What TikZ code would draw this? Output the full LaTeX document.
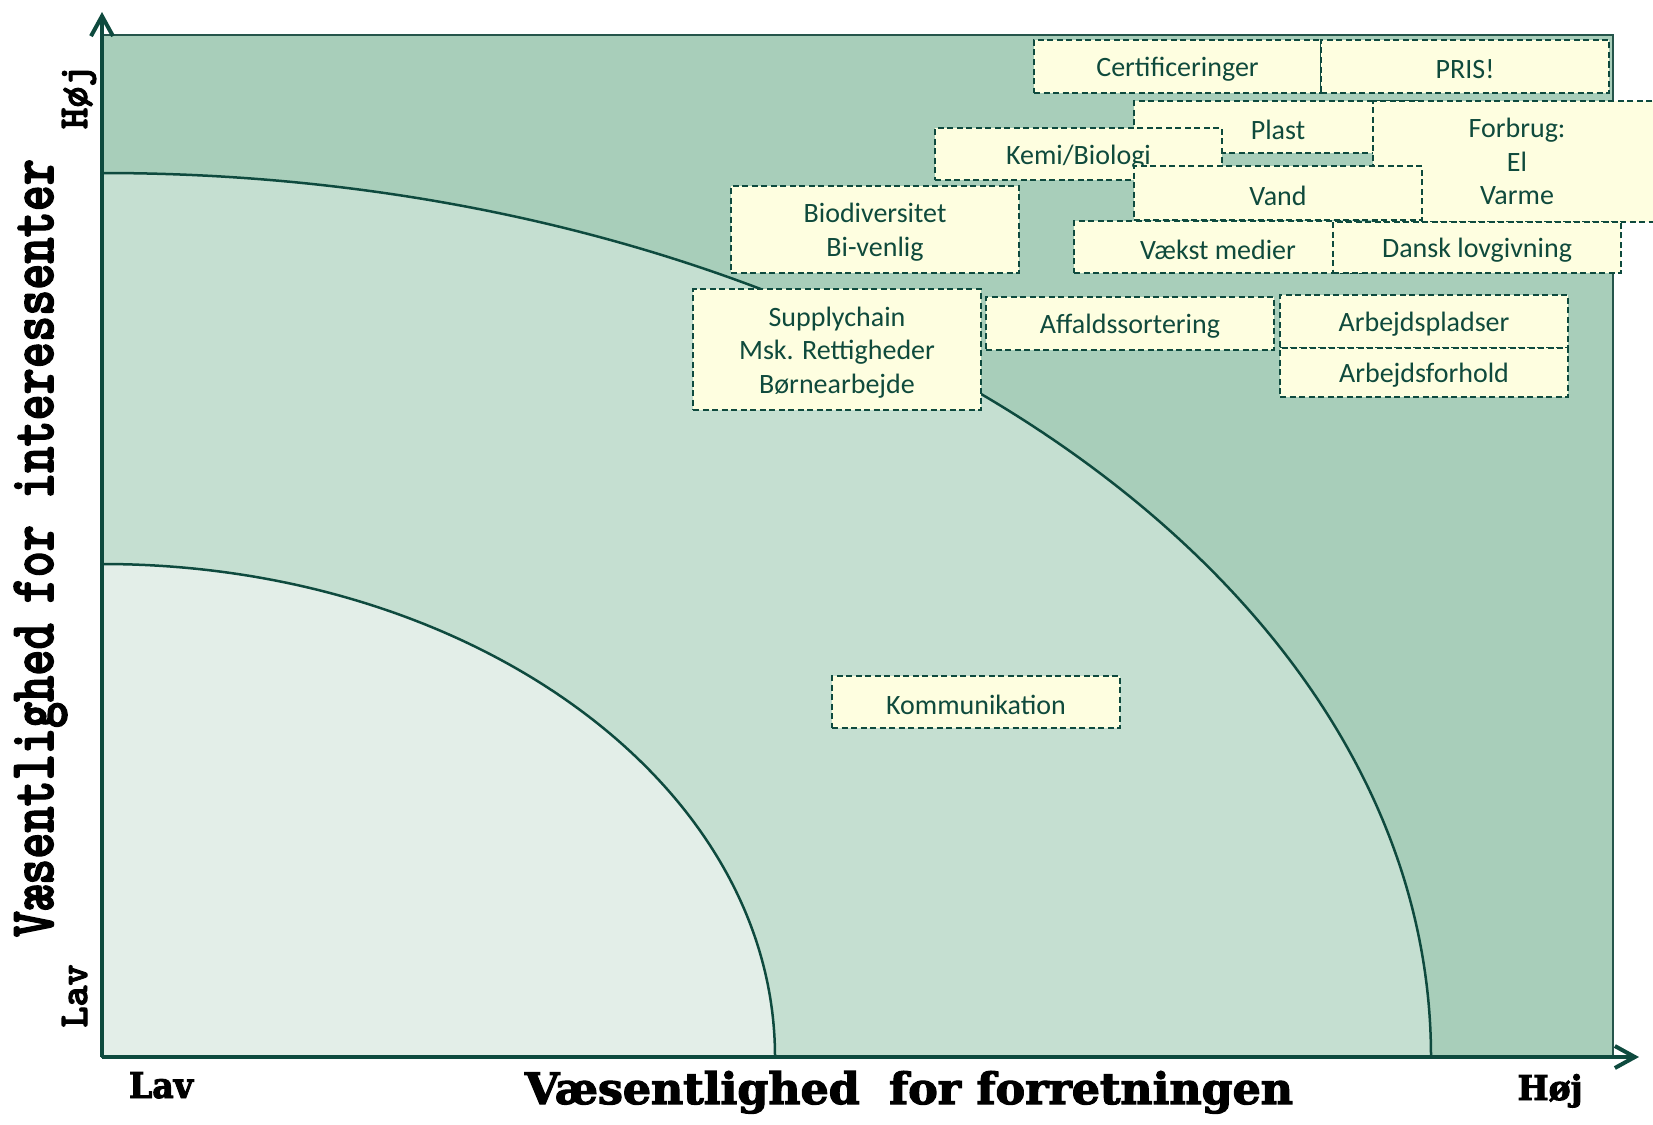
\documentclass[tikz,border=0pt]{standalone}
\usepackage{graphicx}
\usepackage{fontspec}
\setmainfont{Carlito}
\newfontfamily\ymono[FakeBold=2.5]{lmmonolt10-bold.otf}
\newfontfamily\xslab[FakeBold=2.5]{DejaVu Serif Condensed Bold}
\usetikzlibrary{arrows.meta}
\definecolor{darkreg}{HTML}{A8CEBA}
\definecolor{midreg}{HTML}{C5DFD1}
\definecolor{lightreg}{HTML}{E3EEE8}
\definecolor{boxfill}{HTML}{FEFEE0}
\definecolor{linec}{HTML}{0E4A3E}
\definecolor{textc}{HTML}{0F4A3C}
\newcommand{\upstrut}{\rule{0pt}{25pt}}
\begin{document}
\begin{tikzpicture}[x=1pt,y=-1pt,
  box/.style={draw=linec, fill=boxfill, dash pattern=on 6pt off 3.5pt, line width=1.8pt,
    inner sep=0pt, outer sep=0pt, anchor=north west, minimum width=288pt, minimum height=53pt,
    text=textc, align=center, font=\fontsize{28}{33.5}\selectfont},
  curve/.style={draw=linec, line width=2.5pt},
  axisline/.style={draw=linec, line width=4pt, -{Straight Barb[length=20pt,width=22pt,line width=4pt]}},
  plotborder/.style={draw=linec!80!gray, line width=2.5pt}]
\useasboundingbox (0,0) rectangle (1653,1124);
% regions
\fill[darkreg] (102,35) rectangle (1613,1057);
\begin{scope}
  \clip (102,35) rectangle (1613,1057);
  \filldraw[fill=midreg, curve] (102,1057) ellipse [x radius=1329pt, y radius=884pt];
  \filldraw[fill=lightreg, curve] (102,1057) ellipse [x radius=673pt, y radius=493pt];
\end{scope}
\draw[plotborder] (102,35) rectangle (1613,1057);
% axes
\coordinate (O) at (102,1057);
\coordinate (ytip) at (102,12);
\coordinate (xtip) at (1639,1057);
\draw[axisline] (O) -- (ytip);
\draw[axisline] (O) -- (xtip);
% boxes
\node[box] (plast) at (1134,101) [minimum height=52pt] {\upstrut Plast};
\node[box, minimum height=121pt] (forbrug) at (1373,101) {Forbrug:\\El\\Varme};
\node[box, minimum width=287pt] (cert) at (1034,40) {\upstrut Certificeringer};
\node[box] (pris) at (1321,40) {\upstrut PRIS!};
\node[box, minimum width=287pt, minimum height=52pt] (kemi) at (935,128) {\upstrut Kemi/Biologi};
\node[box, minimum height=54pt] (vand) at (1134,166) {\upstrut Vand};
\node[box, minimum height=52pt] (vaekst) at (1074,221) {\upstrut Vækst medier};
\node[box, minimum height=51pt] (dansk) at (1333,222) {\upstrut Dansk lovgivning};
\node[box, minimum height=87pt] (bio) at (731,186) {\upstrut Biodiversitet\\Bi-venlig};
\node[box, minimum height=121pt] (supply) at (693,289) {\upstrut Supplychain\\Msk. Rettigheder\\Børnearbejde};
\node[box] (affald) at (986,297) {\upstrut Affaldssortering};
\node[box] (arbp) at (1280,295) {\upstrut Arbejdspladser};
\node[box, minimum height=49pt] (arbf) at (1280,348) {\upstrut Arbejdsforhold};
\node[box, minimum height=52pt] (komm) at (832,676) {\upstrut Kommunikation};
% axis labels
\node[rotate=90, anchor=base, inner sep=0pt] (ylab) at (53,548)
  {\resizebox{778pt}{39pt}{\ymono Væsentlighed\hspace{0.4em}for interessenter}};
\node[rotate=90, anchor=base, inner sep=0pt] (yhoj) at (87,97)
  {\resizebox{64pt}{25pt}{\ymono Høj}};
\node[rotate=90, anchor=base, inner sep=0pt] (ylav) at (87,996)
  {\resizebox{63pt}{25pt}{\ymono Lav}};
\node[anchor=base, inner sep=0pt] (xlab) at (909,1104)
  {\resizebox{768pt}{33pt}{\xslab Væsentlighed\hspace{0.6em}for forretningen}};
\node[anchor=base, inner sep=0pt] (xlav) at (161,1098)
  {\resizebox{64pt}{26pt}{\xslab Lav}};
\node[anchor=base, inner sep=0pt] (xhoj) at (1550,1100)
  {\resizebox{65pt}{26pt}{\xslab Høj}};
\end{tikzpicture}
\end{document}
